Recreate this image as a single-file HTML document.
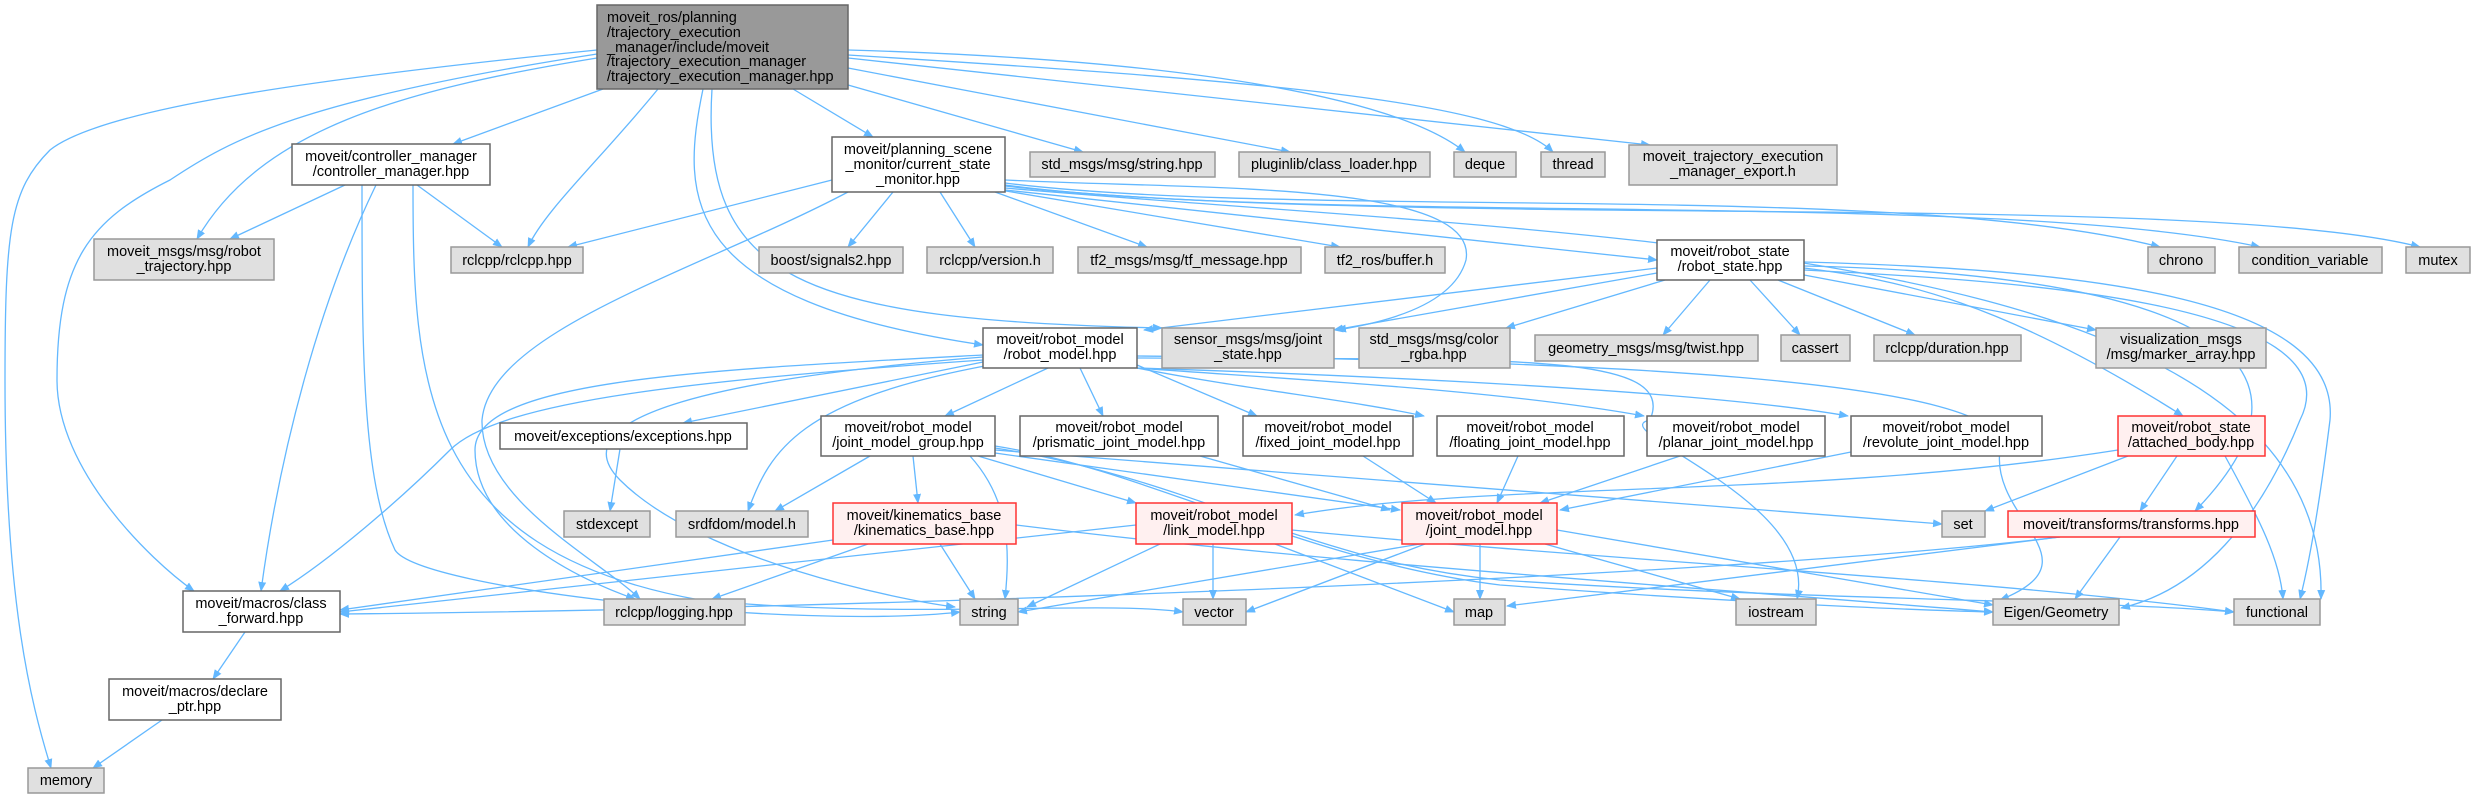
<!DOCTYPE html>
<html><head><meta charset="utf-8"><style>
html,body{margin:0;padding:0;background:#fff;}
svg{display:block;}
text{font-family:"Liberation Sans","DejaVu Sans",sans-serif;font-size:14.5px;fill:#000;}
.w{fill:#fff;stroke:#666;stroke-width:1.5}
.g{fill:#e0e0e0;stroke:#999;stroke-width:1.5}
.r{fill:#fff0f0;stroke:#f33;stroke-width:1.5}
.m{fill:#999;stroke:#666;stroke-width:1.5}
.e{fill:none;stroke:#63b8ff;stroke-width:1.3;marker-end:url(#a)}
</style></head><body>
<svg width="2476" height="799" viewBox="0 0 2476 799" xmlns="http://www.w3.org/2000/svg">
<defs><marker id="a" viewBox="0 0 10 10" refX="9" refY="5" markerWidth="10" markerHeight="10" markerUnits="userSpaceOnUse" orient="auto"><path d="M0,1 L10,5 L0,9 z" fill="#63b8ff"/></marker></defs>
<g>
<path class="e" d="M603,89 L453,144"/>
<path class="e" d="M597,58 C400,90 260,130 197,239"/>
<path class="e" d="M658,89 C600,160 545,210 528,247"/>
<path class="e" d="M793,89 L873,137"/>
<path class="e" d="M848,85 L1083,152"/>
<path class="e" d="M848,68 L1290,152"/>
<path class="e" d="M848,50 C1200,60 1400,100 1465,152"/>
<path class="e" d="M848,55 C1250,80 1500,100 1553,152"/>
<path class="e" d="M848,58 L1650,145"/>
<path class="e" d="M703,89 C680,200 680,300 983,345"/>
<path class="e" d="M712,89 C700,280 800,320 1162,328"/>
<path class="e" d="M597,54 C300,100 230,140 170,180 C90,220 57,260 57,380 C57,470 150,560 194,591"/>
<path class="e" d="M597,50 C300,80 100,110 50,150 C10,190 5,230 5,380 C5,600 30,700 51,768"/>
<path class="e" d="M345,185 L230,239"/>
<path class="e" d="M417,185 L502,247"/>
<path class="e" d="M376,185 C320,300 280,450 261,591"/>
<path class="e" d="M362,185 C362,350 362,480 395,550 C420,590 800,630 960,612"/>
<path class="e" d="M413,185 C413,380 420,550 700,600 C900,620 1100,600 1183,612"/>
<path class="e" d="M832,180 L568,247"/>
<path class="e" d="M893,192 L848,247"/>
<path class="e" d="M940,192 L975,247"/>
<path class="e" d="M995,192 L1147,247"/>
<path class="e" d="M1000,190 L1340,247"/>
<path class="e" d="M1005,190 L1657,260"/>
<path class="e" d="M848,192 C700,270 490,330 482,420 C480,500 600,560 640,599"/>
<path class="e" d="M1005,180 C1200,190 1480,180 1466,260 C1455,300 1400,320 1337,330"/>
<path class="e" d="M1005,183 C1300,220 1900,180 2160,247"/>
<path class="e" d="M1005,185 C1300,225 2000,190 2260,247"/>
<path class="e" d="M1005,186 C1400,230 2200,190 2420,247"/>
<path class="e" d="M1005,188 C1600,240 2330,240 2321,599"/>
<path class="e" d="M1657,268 L1144,330"/>
<path class="e" d="M1657,273 L1334,330"/>
<path class="e" d="M1665,280 L1506,328"/>
<path class="e" d="M1710,280 L1663,335"/>
<path class="e" d="M1750,280 L1800,335"/>
<path class="e" d="M1778,280 L1915,335"/>
<path class="e" d="M1804,275 L2096,330"/>
<path class="e" d="M1804,268 C1900,280 2000,300 2183,416"/>
<path class="e" d="M1804,266 C2000,270 2400,300 2195,511"/>
<path class="e" d="M1804,270 C2000,280 2360,300 2300,420 C2260,520 2200,590 2121,608"/>
<path class="e" d="M1804,262 C2100,270 2340,300 2330,420 C2320,500 2310,560 2300,599"/>
<path class="e" d="M983,362 L683,423"/>
<path class="e" d="M1048,368 L945,416"/>
<path class="e" d="M1080,368 L1103,416"/>
<path class="e" d="M1137,365 L1257,416"/>
<path class="e" d="M1137,368 C1250,390 1350,400 1424,416"/>
<path class="e" d="M1137,368 C1300,380 1500,390 1644,416"/>
<path class="e" d="M1137,368 C1350,375 1700,390 1848,416"/>
<path class="e" d="M990,365 C800,400 770,450 748,511"/>
<path class="e" d="M983,360 C700,380 500,400 450,450 C400,500 330,560 280,591"/>
<path class="e" d="M983,355 C700,370 475,380 475,450 C475,530 580,580 635,599"/>
<path class="e" d="M983,357 C700,380 560,420 620,480 C700,560 900,600 955,607"/>
<path class="e" d="M1137,358 C1500,360 1680,350 1650,420 C1600,430 1820,500 1797,599"/>
<path class="e" d="M1137,356 C1600,360 2020,380 2000,450 C1990,520 2100,560 2000,600"/>
<path class="e" d="M870,456 L775,511"/>
<path class="e" d="M913,456 L918,503"/>
<path class="e" d="M970,456 C1010,500 1010,550 1005,599"/>
<path class="e" d="M978,456 L1136,503"/>
<path class="e" d="M995,453 L1400,510"/>
<path class="e" d="M995,450 L1942,524"/>
<path class="e" d="M995,448 C1200,480 1300,560 1500,580 C1800,600 2100,600 2234,612"/>
<path class="e" d="M995,446 C1150,470 1300,560 1500,585 C1700,600 1900,610 1993,612"/>
<path class="e" d="M833,540 L340,610"/>
<path class="e" d="M868,544 L712,599"/>
<path class="e" d="M940,544 L975,599"/>
<path class="e" d="M1016,525 C1300,560 1600,580 1993,612"/>
<path class="e" d="M1136,525 L340,612"/>
<path class="e" d="M1160,544 L1027,607"/>
<path class="e" d="M1213,544 L1213,599"/>
<path class="e" d="M1275,544 L1454,612"/>
<path class="e" d="M1292,530 C1600,560 2000,580 2234,612"/>
<path class="e" d="M1420,544 L1018,612"/>
<path class="e" d="M1425,544 L1246,612"/>
<path class="e" d="M1480,544 L1480,599"/>
<path class="e" d="M1545,544 L1740,599"/>
<path class="e" d="M1557,530 L1993,605"/>
<path class="e" d="M1363,456 L1436,503"/>
<path class="e" d="M1518,456 L1497,503"/>
<path class="e" d="M1680,456 L1540,503"/>
<path class="e" d="M1851,452 L1560,510"/>
<path class="e" d="M1200,456 L1390,510"/>
<path class="e" d="M2118,450 C1800,500 1500,480 1295,515"/>
<path class="e" d="M2128,456 L1985,511"/>
<path class="e" d="M2177,456 L2140,511"/>
<path class="e" d="M2225,456 C2260,520 2280,560 2283,599"/>
<path class="e" d="M2060,537 C1700,580 800,610 340,614"/>
<path class="e" d="M2060,537 L1507,606"/>
<path class="e" d="M2120,537 L2075,599"/>
<path class="e" d="M620,449 L610,511"/>
<path class="e" d="M245,632 L213,679"/>
<path class="e" d="M162,720 L93,768"/>
</g>
<g>
<rect class="m" x="597" y="5" width="251" height="84"/>
<text x="607" y="22">moveit_ros/planning</text>
<text x="607" y="37">/trajectory_execution</text>
<text x="607" y="52">_manager/include/moveit</text>
<text x="607" y="66">/trajectory_execution_manager</text>
<text x="607" y="81">/trajectory_execution_manager.hpp</text>
<g text-anchor="middle">
<rect class="w" x="292" y="144" width="198" height="41"/><text x="391" y="161">moveit/controller_manager</text><text x="391" y="176">/controller_manager.hpp</text>
<rect class="g" x="94" y="239" width="180" height="41"/><text x="184" y="256">moveit_msgs/msg/robot</text><text x="184" y="271">_trajectory.hpp</text>
<rect class="g" x="451" y="247" width="132" height="26"/><text x="517" y="265">rclcpp/rclcpp.hpp</text>
<rect class="w" x="832" y="137" width="173" height="55"/><text x="918" y="154">moveit/planning_scene</text><text x="918" y="169">_monitor/current_state</text><text x="918" y="184">_monitor.hpp</text>
<rect class="g" x="1030" y="152" width="185" height="25"/><text x="1122" y="169">std_msgs/msg/string.hpp</text>
<rect class="g" x="1239" y="152" width="191" height="25"/><text x="1334" y="169">pluginlib/class_loader.hpp</text>
<rect class="g" x="1454" y="152" width="62" height="25"/><text x="1485" y="169">deque</text>
<rect class="g" x="1541" y="152" width="64" height="25"/><text x="1573" y="169">thread</text>
<rect class="g" x="1629" y="145" width="208" height="40"/><text x="1733" y="161">moveit_trajectory_execution</text><text x="1733" y="176">_manager_export.h</text>
<rect class="g" x="759" y="247" width="144" height="26"/><text x="831" y="265">boost/signals2.hpp</text>
<rect class="g" x="927" y="247" width="126" height="26"/><text x="990" y="265">rclcpp/version.h</text>
<rect class="g" x="1078" y="247" width="223" height="26"/><text x="1189" y="265">tf2_msgs/msg/tf_message.hpp</text>
<rect class="g" x="1325" y="247" width="120" height="26"/><text x="1385" y="265">tf2_ros/buffer.h</text>
<rect class="w" x="1657" y="240" width="147" height="40"/><text x="1730" y="256">moveit/robot_state</text><text x="1730" y="271">/robot_state.hpp</text>
<rect class="g" x="2148" y="247" width="67" height="26"/><text x="2181" y="265">chrono</text>
<rect class="g" x="2239" y="247" width="143" height="26"/><text x="2310" y="265">condition_variable</text>
<rect class="g" x="2406" y="247" width="64" height="26"/><text x="2438" y="265">mutex</text>
<rect class="w" x="983" y="328" width="154" height="40"/><text x="1060" y="344">moveit/robot_model</text><text x="1060" y="359">/robot_model.hpp</text>
<rect class="g" x="1162" y="328" width="172" height="40"/><text x="1248" y="344">sensor_msgs/msg/joint</text><text x="1248" y="359">_state.hpp</text>
<rect class="g" x="1359" y="328" width="151" height="40"/><text x="1434" y="344">std_msgs/msg/color</text><text x="1434" y="359">_rgba.hpp</text>
<rect class="g" x="1535" y="335" width="223" height="26"/><text x="1646" y="353">geometry_msgs/msg/twist.hpp</text>
<rect class="g" x="1781" y="335" width="69" height="26"/><text x="1815" y="353">cassert</text>
<rect class="g" x="1874" y="335" width="147" height="26"/><text x="1947" y="353">rclcpp/duration.hpp</text>
<rect class="g" x="2096" y="328" width="170" height="40"/><text x="2181" y="344">visualization_msgs</text><text x="2181" y="359">/msg/marker_array.hpp</text>
<rect class="w" x="500" y="423" width="247" height="26"/><text x="623" y="441">moveit/exceptions/exceptions.hpp</text>
<rect class="w" x="821" y="416" width="174" height="40"/><text x="908" y="432">moveit/robot_model</text><text x="908" y="447">/joint_model_group.hpp</text>
<rect class="w" x="1020" y="416" width="198" height="40"/><text x="1119" y="432">moveit/robot_model</text><text x="1119" y="447">/prismatic_joint_model.hpp</text>
<rect class="w" x="1243" y="416" width="170" height="40"/><text x="1328" y="432">moveit/robot_model</text><text x="1328" y="447">/fixed_joint_model.hpp</text>
<rect class="w" x="1437" y="416" width="187" height="40"/><text x="1530" y="432">moveit/robot_model</text><text x="1530" y="447">/floating_joint_model.hpp</text>
<rect class="w" x="1647" y="416" width="178" height="40"/><text x="1736" y="432">moveit/robot_model</text><text x="1736" y="447">/planar_joint_model.hpp</text>
<rect class="w" x="1851" y="416" width="191" height="40"/><text x="1946" y="432">moveit/robot_model</text><text x="1946" y="447">/revolute_joint_model.hpp</text>
<rect class="r" x="2118" y="416" width="147" height="40"/><text x="2191" y="432">moveit/robot_state</text><text x="2191" y="447">/attached_body.hpp</text>
<rect class="g" x="564" y="511" width="86" height="26"/><text x="607" y="529">stdexcept</text>
<rect class="g" x="676" y="511" width="132" height="26"/><text x="742" y="529">srdfdom/model.h</text>
<rect class="r" x="833" y="503" width="183" height="41"/><text x="924" y="520">moveit/kinematics_base</text><text x="924" y="535">/kinematics_base.hpp</text>
<rect class="r" x="1136" y="503" width="156" height="41"/><text x="1214" y="520">moveit/robot_model</text><text x="1214" y="535">/link_model.hpp</text>
<rect class="r" x="1402" y="503" width="155" height="41"/><text x="1479" y="520">moveit/robot_model</text><text x="1479" y="535">/joint_model.hpp</text>
<rect class="g" x="1942" y="511" width="43" height="26"/><text x="1963" y="529">set</text>
<rect class="r" x="2008" y="511" width="247" height="26"/><text x="2131" y="529">moveit/transforms/transforms.hpp</text>
<rect class="w" x="183" y="591" width="157" height="41"/><text x="261" y="608">moveit/macros/class</text><text x="261" y="623">_forward.hpp</text>
<rect class="g" x="604" y="599" width="141" height="26"/><text x="674" y="617">rclcpp/logging.hpp</text>
<rect class="g" x="960" y="599" width="58" height="26"/><text x="989" y="617">string</text>
<rect class="g" x="1183" y="599" width="63" height="26"/><text x="1214" y="617">vector</text>
<rect class="g" x="1454" y="599" width="51" height="26"/><text x="1479" y="617">map</text>
<rect class="g" x="1736" y="599" width="80" height="26"/><text x="1776" y="617">iostream</text>
<rect class="g" x="1993" y="599" width="126" height="26"/><text x="2056" y="617">Eigen/Geometry</text>
<rect class="g" x="2234" y="599" width="86" height="26"/><text x="2277" y="617">functional</text>
<rect class="w" x="109" y="679" width="172" height="41"/><text x="195" y="696">moveit/macros/declare</text><text x="195" y="711">_ptr.hpp</text>
<rect class="g" x="28" y="768" width="76" height="25"/><text x="66" y="785">memory</text>
</g>
</g>
</svg>
</body></html>
